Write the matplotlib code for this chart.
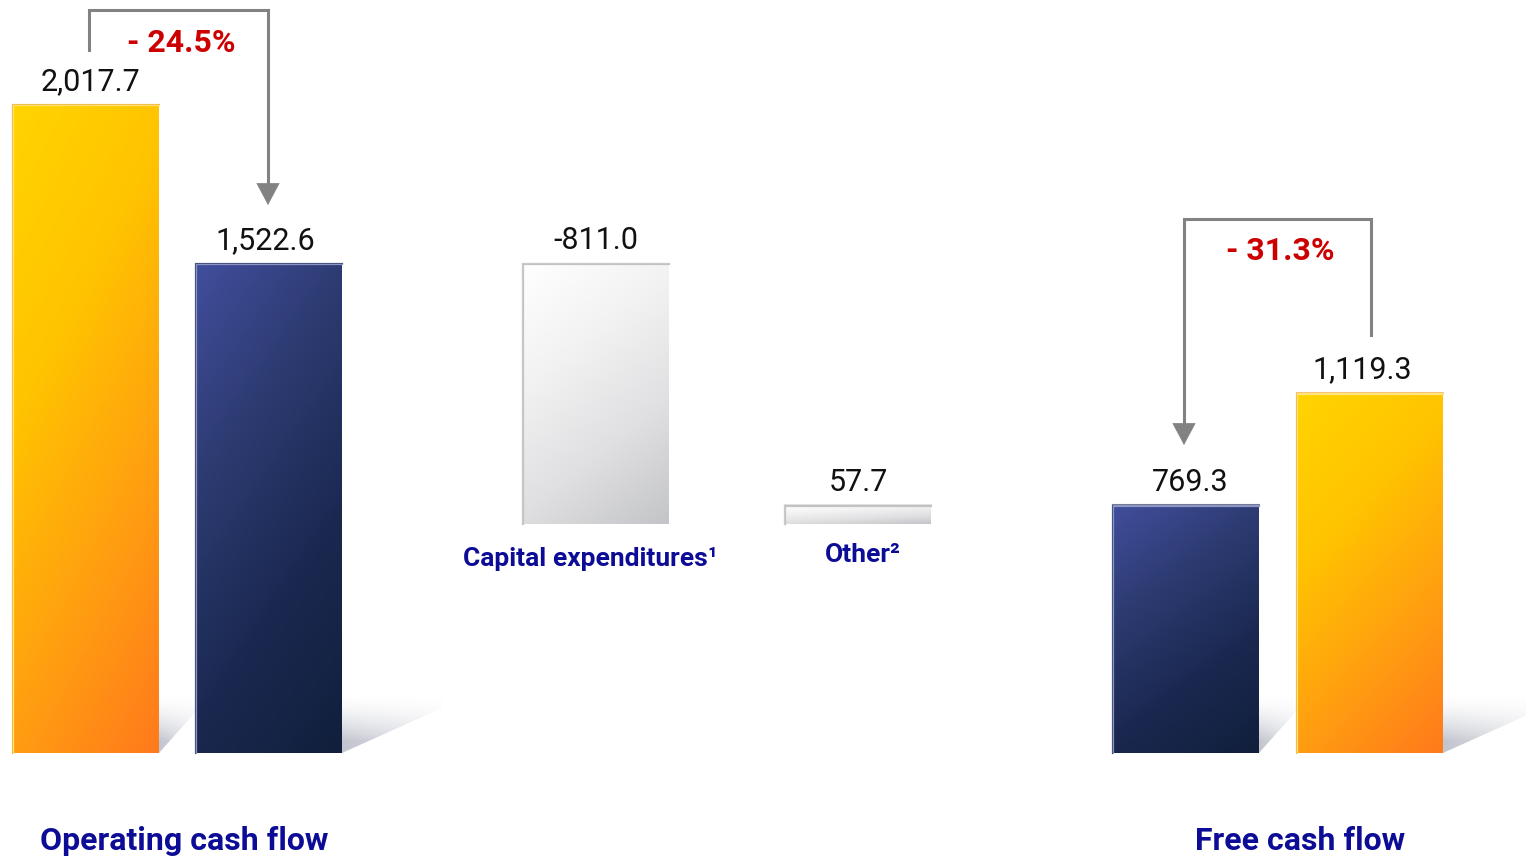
import matplotlib.pyplot as plt
import numpy as np
from matplotlib.colors import LinearSegmentedColormap, to_rgb
from matplotlib.patches import Polygon

plt.rcParams['font.family'] = ['Roboto', 'DejaVu Sans']

# data
values = [2017.7, 1522.6, -811.0, 57.7, 769.3, 1119.3]
value_labels = ['2,017.7', '1,522.6', '-811.0', '57.7', '769.3', '1,119.3']
kinds = ['prior', 'current', 'step', 'step', 'current', 'prior']
group_labels = ['Operating cash flow', 'Free cash flow']
step_labels = ['Capital expenditures\u00b9', 'Other\u00b2']
changes = ['- 24.5%', '- 31.3%']

# layout (x in pixel-like units, y in value units)
xc = [86, 269, 596, 858, 1186, 1370]
label_shift = [5, -4, 0, 0, 4, -8]
width = 146
k = 648 / 2017.7          # pixels per unit of value
px = lambda p: p / k      # pixel length -> value length

fills = {
    'prior': ['#FFD400', '#FFC400', '#FFA010', '#FF7A1C'],
    'current': ['#414E9C', '#2C3A70', '#1A2850', '#111F3C'],
    'step': ['#FFFFFF', '#F2F2F3', '#E0E0E2', '#C4C5C8'],
}
edges = {
    'prior': ('#FFE680', '#F3A020'),
    'current': ('#9098C8', '#1C2850'),
    'step': ('#C2C2C4', '#D0D0D2'),
}

fig = plt.figure(figsize=(15.26, 8.59), dpi=100)
ax = fig.add_axes([0, 0, 1, 1])
ax.set_xlim(0, 1526)
ax.set_ylim(-px(859 - 753), px(753))
ax.axis('off')

# waterfall bottoms / tops
bottoms, tops = [], []
running = 0
for v, kind in zip(values, kinds):
    if kind == 'step':
        b, t = sorted([running, running + v])
        running += v
    else:
        b, t = 0, v
        running = v
    bottoms.append(b)
    tops.append(t)


def gradient(x0, x1, y0, y1, colors, diag=0.3):
    cmap = LinearSegmentedColormap.from_list('g', colors)
    u = np.linspace(0, 1, 80)[None, :]
    w = np.linspace(0, 1, 160)[:, None]
    t = (1 - diag) * w + diag * u
    ax.imshow(t, cmap=cmap, vmin=0, vmax=1, extent=(x0, x1, y0, y1),
              origin='upper', aspect='auto', interpolation='bilinear', zorder=2)


def shadow(xr, b, length, h):
    top = b + h * 1.3
    poly = Polygon([(xr, b), (xr, top), (xr + length, top), (xr + length, b + h)],
                   closed=True, facecolor='none', edgecolor='none')
    ax.add_patch(poly)
    n = 100
    img = np.ones((n, n, 4))
    img[..., :3] = to_rgb('#B8BBC6')
    vv = np.linspace(0, 1, n)[:, None]     # 0 top -> 1 bottom
    uu = np.linspace(0, 1, n)[None, :]
    alpha = np.clip(vv / 0.8, 0, 1) ** 1.6 * (1 - 0.6 * uu)
    img[..., 3] = alpha * 0.85
    im = ax.imshow(img, extent=(xr, xr + length, b, top), origin='upper',
                   aspect='auto', interpolation='bilinear', zorder=1)
    im.set_clip_path(poly)


for i, kind in enumerate(kinds):
    x0, x1 = xc[i] - width / 2, xc[i] + width / 2
    b, t = bottoms[i], tops[i]
    if kind != 'step':
        shadow(x1, b, 100 if i in (1, 5) else 40, px(45))
    gradient(x0, x1, b, t, fills[kind])
    light, dark = edges[kind]
    ax.plot([x0, x0, x1], [b, t, t], color=light, lw=1.6, zorder=3,
            solid_joinstyle='miter')
    ax.plot([x0 - 1.5, x0 - 1.5, x1], [b, t + px(1.5), t + px(1.5)], color=dark,
            lw=0.8, zorder=3, alpha=0.6)
    ax.annotate(value_labels[i], (xc[i] + label_shift[i], t), xytext=(0, 11),
                textcoords='offset points', ha='center', va='baseline',
                fontsize=22, color='#111111', zorder=4)

# category labels
blue = '#0C0C96'
ax.text(184, px(753 - 850), group_labels[0], ha='center',
        va='baseline', fontsize=23, fontweight='bold', color=blue)
ax.text(1300, px(753 - 850), group_labels[1], ha='center',
        va='baseline', fontsize=23, fontweight='bold', color=blue)
for j, i in enumerate([2, 3]):
    ax.annotate(step_labels[j], ([590, 863][j], bottoms[i]),
                xytext=(0, -[30, 27][j]), textcoords='offset points', ha='center',
                va='baseline', fontsize=19, fontweight='bold', color=blue)

# change brackets
gray = '#828282'


def bracket(x_start, y_start, y_top, x_end, y_tip, label, lx, ly):
    ax.plot([x_start, x_start, x_end, x_end], [px(753 - y_start), px(753 - y_top),
            px(753 - y_top), px(753 - y_tip + 16)], color=gray, lw=2.2,
            solid_joinstyle='miter', zorder=3)
    ax.annotate('', xy=(x_end, px(753 - y_tip)), xytext=(x_end, px(753 - y_tip + 18)),
                arrowprops=dict(arrowstyle='-|>,head_length=0.75,head_width=0.4',
                                color=gray, lw=0.5, shrinkA=0, shrinkB=0,
                                mutation_scale=20))
    ax.text(lx, px(753 - ly), label, ha='center', va='baseline', fontsize=23,
            fontweight='bold', color='#CC0000')


bracket(89, 50, 10, 268, 205, changes[0], 181, 52)
bracket(1371, 335, 219, 1184, 445, changes[1], 1280, 260)

fig.savefig('out.png', dpi=100, facecolor='white')
